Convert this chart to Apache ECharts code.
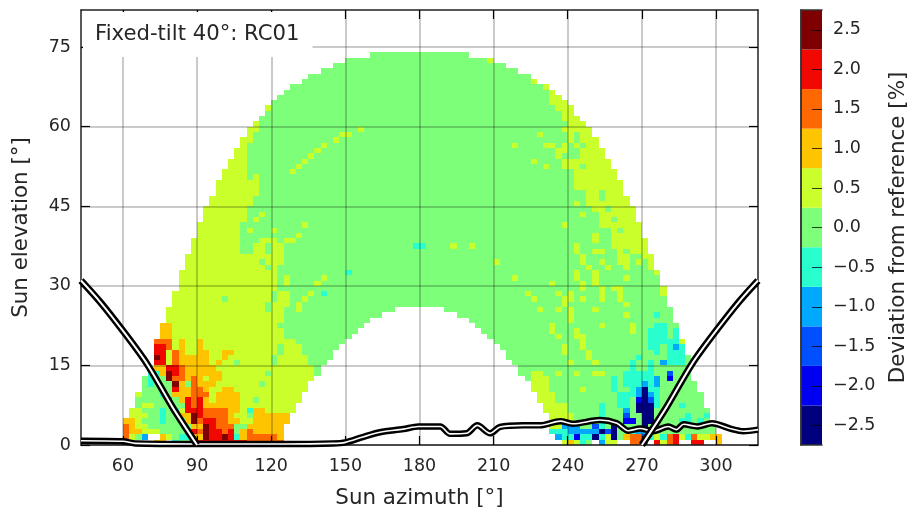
<!DOCTYPE html>
<html>
<head>
<meta charset="utf-8">
<style>
  html, body { margin: 0; background: #fff; }
  #chart { width: 909px; height: 508px; }
</style>
<script src="https://cdn.jsdelivr.net/npm/echarts@6/dist/echarts.min.js"></script>
</head>
<body>
<div id="chart"></div>
<script>
// colour bar
const barLabels = ['−2.5', '−2.0', '−1.5', '−1.0', '−0.5', '0.0', '0.5', '1.0', '1.5', '2.0', '2.5'];
const barColors = ['#00007f', '#0000f1', '#0050ff', '#00a9ff', '#29ffce', '#7dff7a', '#caff2c', '#ffc400', '#ff6800', '#f10800', '#7f0000'];
// letter used in the patches below -> index in barColors
const levelKeys = { n: 0, B: 1, b: 2, s: 3, c: 4, g: 5, y: 6, a: 7, o: 8, r: 9, d: 10 };

const azTicks = [60, 90, 120, 150, 180, 210, 240, 270, 300];
const elTicks = [0, 15, 30, 45, 60, 75];

// bins: 2.5 deg azimuth from 60, 1 deg elevation from 0
const azStart = 60, azStep = 2.5, elStep = 1;

// per elevation row (index = degree): first filled azimuth bin, first bin past the end
const rowStart = [0,0,0,0,0,1,1,2,2,2,3,3,3,4,5,5,5,5,5,5,6,6,6,7,7,7,8,8,8,9,9,9,9,10,10,10,11,11,11,12,12,12,13,13,13,14,14,15,15,15,16,16,17,17,18,18,19,19,20,20,21,22,23,23,24,25,26,27,29,30,32,34,36,40];
const rowEnd = [97,97,96,96,95,95,95,94,94,94,93,93,92,92,92,92,92,91,91,91,90,90,90,89,89,89,88,88,88,88,87,87,87,86,86,86,85,85,85,84,84,84,83,83,83,82,82,81,81,81,80,80,79,79,78,78,77,77,76,76,75,74,73,73,72,71,70,69,67,66,64,62,60,56];
// white area under the arc
const holeStart = [26,26,26,26,27,27,28,28,29,29,30,30,31,32,32,33,34,34,35,36,37,38,39,40,42,44];
const holeEnd = [71,70,69,69,69,69,68,68,67,67,66,66,65,64,64,63,62,62,61,60,59,58,57,56,54,52];
// +0.5 bands: left band runs up to leftBand, right band starts at rightBand
const leftBand = [40,40,40,40,40,40,40,40,40,40,40,40,40,31,31,30,30,29,29,28,26,26,25,26,26,26,27,27,27,25,25,25,25,25,26,26,19,19,19,19,19,19,20,20,20,21,21,22,22,22,20,20,20,20,20,20,20,21,21,22,22,0,0,0,0,0,0,0,0,0,0,0,0,0];
const rightBand = [99,99,99,99,99,99,99,99,99,99,99,99,99,99,99,99,99,99,99,99,99,99,99,99,99,99,99,99,99,99,99,99,99,99,80,80,80,79,79,79,79,77,77,77,76,75,75,75,73,73,73,73,71,71,74,74,75,72,72,72,72,71,71,70,69,69,69,68,66,99,99,99,99,99];

// [row, first bin, letters]; '_' empty
const patches = [
  [0,0,'_____aa_cgggrrrrrrrroooooo'],
  [1,0,'oygs__aygccaadrrdrcaoooooa'],
  [2,0,'oaayyyggggcrodrrorgaoaaaaa'],
  [3,0,'oayygggggggaadroooggaaaaaa'],
  [4,0,'aaygggcgggadorrooaayyaaaaaa'],
  [5,1,'yyyggcggaadroooo'+'ayygaaaaaa'],
  [6,1,'yygggcgcyrrroooo'+'aayc'+'aa'],
  [7,2,'gyyggggg'+'ror'+'aaaaaa'],
  [8,2,'gggggsga'+'ror'+'ay'+'aaaa'],[8,21,'g'],
  [9,3,'gggcgaaa'+'ooo'+'y'+'aaaa'],
  [10,3,'gggcgraaooayyaa'],
  [11,3,'gcgggdagoaaay'],[11,22,'g'],
  [12,3,'gccgdooaoayaa'],
  [13,4,'ccadroaaaaaa'],[13,23,'g'],
  [14,5,'aarroaaaaa'],
  [15,5,'rryoaaaaa'],[15,15,'a'],[15,18,'g'],[15,24,'g'],
  [16,5,'dryoaaaaa'],[16,16,'a'],[16,24,'g'],
  [17,5,'rryoa'],[17,12,'aa'],[17,16,'aa'],[17,25,'g'],
  [18,5,'rroya'],[18,12,'a'],[18,25,'g'],
  [19,5,'oooya'],[19,12,'a'],
  [20,6,'aa'],[21,6,'aa'],[22,6,'aa'],[22,25,'g'],
  [25,23,'g'],[26,23,'g'],[27,16,'g'],[27,24,'g'],[28,24,'g'],
  [30,26,'y'],[31,26,'y'],[33,23,'g'],[34,22,'g'],
  [36,21,'yygyy'],[37,21,'yygyy'],[38,22,'yyy'],[38,26,'yy'],
  // specks in the green part, left
  [25,28,'y'],[26,28,'y'],[27,29,'y'],[28,30,'y'],[28,32,'c'],[30,31,'y'],[31,32,'y'],[32,36,'c'],
  [39,28,'y'],[40,20,'y'],[40,24,'y'],[41,29,'y'],[42,21,'y'],[43,22,'y'],[51,27,'y'],[52,28,'y'],
  [53,29,'y'],[54,30,'y'],[55,31,'y'],[56,32,'y'],[57,34,'y'],[58,35,'yy'],[59,38,'y'],[50,21,'y'],
  [63,23,'y'],
  // centre and right
  [37,47,'cc'],[37,53,'y'],[37,56,'y'],[34,60,'y'],[72,59,'y'],[31,63,'y'],[56,63,'y'],
  [28,65,'y'],[27,66,'y'],[53,66,'y'],[58,67,'y'],[52,68,'y'],[30,69,'y'],
  [54,70,'y'],[55,70,'yy'],[28,70,'y'],[27,71,'yy'],[28,72,'y'],[41,71,'y'],[59,71,'y'],
  [36,73,'y'],[37,73,'y'],[31,73,'y'],[32,73,'y'],[45,73,'y'],[56,68,'yy'],[56,71,'y'],[56,73,'y'],
  [57,73,'g'],[58,73,'g'],[52,74,'g'],[43,74,'y'],[35,74,'y'],[34,74,'y'],[30,74,'y'],[29,74,'y'],[27,74,'y'],
  [33,75,'y'],[38,76,'y'],[39,76,'y'],[36,76,'yy'],[30,76,'y'],[31,76,'y'],[32,76,'y'],
  [34,77,'y'],[46,77,'g'],[47,77,'g'],[29,77,'y'],[28,77,'y'],[27,77,'y'],[33,78,'y'],[44,78,'g'],[42,79,'g'],
  [40,80,'g'],[29,79,'yy'],[28,80,'y'],[27,80,'y'],[36,81,'g'],[33,81,'y'],[31,81,'y'],[35,82,'gg'],[34,82,'g'],[34,84,'g'],
  [33,85,'y'],[32,86,'y'],[28,87,'y'],[29,87,'y'],
  [26,71,'y'],[25,67,'y'],[25,70,'y'],[25,72,'y'],[25,76,'y'],[24,72,'y'],[23,72,'y'],[24,81,'y'],[24,86,'c'],[26,81,'y'],
  [22,69,'y'],[22,77,'y'],[22,82,'y'],[22,86,'cc'],
  [21,69,'y'],[21,73,'y'],[21,82,'y'],[21,85,'ccc'],[21,89,'c'],
  [20,70,'y'],[20,73,'yy'],[20,85,'ccc'],[20,89,'c'],
  [19,74,'y'],[19,85,'ccccc'],[19,90,'y'],
  [18,71,'y'],[18,74,'y'],[18,85,'cc'],[18,88,'csc'],
  [17,71,'y'],[17,75,'y'],[17,86,'c'],[17,88,'ccc'],
  [16,75,'y'],[16,83,'c'],[16,88,'ccc'],
  [15,72,'y'],[15,76,'y'],[15,82,'c'],[15,85,'c'],[15,87,'sccc'],
  [14,82,'c'],[14,85,'c'],
  [13,66,'yy'],[13,70,'y'],[13,73,'y'],[13,76,'yy'],[13,81,'ccccc'],[13,88,'b'],
  [12,66,'yyy'],[12,79,'c'],[12,81,'ccccc'],[12,86,'s'],[12,88,'B'],
  [11,66,'yyy'],[11,79,'c'],[11,81,'cccsc'],[11,86,'s'],
  [10,66,'yyy'],[10,74,'y'],[10,79,'c'],[10,82,'csncc'],
  [9,67,'yyy'],[9,80,'cccsnsc'],
  [8,67,'yyy'],[8,80,'cc'],[8,83,'Bnbc'],
  [7,68,'yyyy'],[7,77,'c'],[7,80,'cc'],[7,83,'nnnc'],[7,90,'c'],
  [6,68,'yyyy'],[6,77,'c'],[6,81,'s'],[6,83,'nnn'],
  [5,69,'yyyy'],[5,77,'c'],[5,81,'b'],[5,84,'nn'],[5,91,'c'],[5,94,'c'],
  [4,69,'yyyy'],[4,77,'c'],[4,81,'BB'],[4,84,'nn'],[4,90,'cc'],[4,93,'c'],
  [3,69,'yysss'],[3,76,'bc'],[3,79,'n'],[3,84,'n'],
  [2,69,'cccsssssnc'],[2,78,'bn'],[2,82,'css'],
  [1,70,'sccBccncynga'],[1,82,'oobc'],[1,86,'ycorycoyyaa'],
  [0,71,'yaycg_syy__oos_ryor__rr__a']
];

// build the cells [azimuth, elevation, colour index]
const cells = [];
for (let r = 0; r < rowStart.length; r++) {
  const row = [];
  for (let k = rowStart[r]; k < rowEnd[r]; k++) {
    if (r < holeStart.length && k >= holeStart[r] && k < holeEnd[r]) continue;
    let key = 'g';
    if (k < leftBand[r] || k >= rightBand[r]) key = 'y';
    row[k] = key;
  }
  patches.filter(p => p[0] === r).forEach(p => {
    p[2].split('').forEach((c, i) => {
      if (c === '_') delete row[p[1] + i];
      else row[p[1] + i] = c;
    });
  });
  row.forEach((key, k) => {
    cells.push([azStart + azStep * (k + 0.5), elStep * (r + 0.5), levelKeys[key]]);
  });
}

// horizon and sky-view limit lines
const horizonAz = [43,60,65,90,125,145,150,157,164,173.5,179.5,188.4,192.4,199,203.4,208.6,212.6,222,228.8,237,242,253,259.9,264.5,269.3,274.6,280.7,284,286.9,292.5,298.3,306.4,311,317];
const horizonEl = [0.8,0.7,0.3,0.2,0.2,0.3,0.5,1.5,2.4,3,3.5,3.5,2.1,2.2,3.7,2.2,3.4,3.7,3.7,4.5,4,4.7,4.1,2.7,3.1,2.6,3.5,2.9,3.9,3.5,4.1,3,2.6,2.9];
const limitLeftAz = [43,50.7,60,69.7,80.2,90];
const limitLeftEl = [31,27,21.5,15.3,7,0];
const limitRightAz = [270,279.8,290.3,300,309.3,317];
const limitRightEl = [0,7,15.3,21.5,27,31];

const zip = (a, b) => a.map((v, i) => [v, b[i]]);
const lineColorDark = '#000', textColor = '#262626', fontFamily = 'DejaVu Sans';

function lineSeries(az, el, color, width) {
  return {
    type: 'line', xAxisIndex: 0, yAxisIndex: 0, data: zip(az, el), showSymbol: false, symbol: 'none',
    silent: true, z: 6, smooth: 0.3, lineStyle: { color: color, width: width, join: 'round' }
  };
}

const mainAxis = {
  z: 5,
  axisLine: { show: true, onZero: false, lineStyle: { color: '#222', width: 1.5 } },
  axisTick: { show: true, inside: true, length: 9, lineStyle: { color: '#000', width: 1.2 } },
  splitLine: { show: false }
};
const gridLine = { show: true, lineStyle: { color: 'rgba(0,0,0,0.28)', width: 1.5 } };
const labelStyle = { fontSize: 17.5, color: textColor, fontFamily: fontFamily };
const nameStyle = { fontSize: 21.4, color: textColor, fontFamily: fontFamily };

const chart = echarts.init(document.getElementById('chart'));
chart.setOption({
  animation: false,
  backgroundColor: '#fff',
  textStyle: { fontFamily: fontFamily },
  title: {
    text: 'Fixed-tilt 40°: RC01',
    left: 83, top: 12, z: 10,
    backgroundColor: '#fff',
    padding: [12, 13, 12, 12],
    textStyle: { fontFamily: fontFamily, fontSize: 21.2, fontWeight: 'normal', color: textColor }
  },
  grid: [
    { left: 81, top: 10, width: 677, height: 435, outerBoundsMode: 'none' },
    { left: 801, top: 10, width: 21, height: 435, outerBoundsMode: 'none' }
  ],
  xAxis: [
    Object.assign({}, mainAxis, {
      type: 'value', gridIndex: 0, min: 43, max: 317, position: 'bottom',
      name: 'Sun azimuth [°]', nameLocation: 'middle', nameGap: 43, nameTextStyle: nameStyle,
      axisTick: Object.assign({}, mainAxis.axisTick, { customValues: azTicks }),
      axisLabel: Object.assign({ customValues: azTicks, margin: 12 }, labelStyle),
      splitLine: gridLine
    }),
    Object.assign({}, mainAxis, {
      type: 'value', gridIndex: 0, min: 43, max: 317, position: 'top',
      axisTick: Object.assign({}, mainAxis.axisTick, { customValues: azTicks }),
      axisLabel: { show: false }
    }),
    {
      type: 'value', gridIndex: 1, min: 0, max: 1, position: 'bottom', z: 5,
      axisLine: { show: true, lineStyle: { color: '#333', width: 1.5 } },
      axisTick: { show: false }, axisLabel: { show: false }, splitLine: { show: false }
    },
    {
      type: 'value', gridIndex: 1, min: 0, max: 1, position: 'top', z: 5,
      axisLine: { show: true, lineStyle: { color: '#333', width: 1.5 } },
      axisTick: { show: false }, axisLabel: { show: false }, splitLine: { show: false }
    }
  ],
  yAxis: [
    Object.assign({}, mainAxis, {
      type: 'value', gridIndex: 0, min: 0, max: 82, position: 'left',
      name: 'Sun elevation [°]', nameLocation: 'middle', nameGap: 49, nameTextStyle: nameStyle,
      axisTick: Object.assign({}, mainAxis.axisTick, { customValues: elTicks }),
      axisLabel: Object.assign({ customValues: elTicks, margin: 10 }, labelStyle),
      splitLine: gridLine
    }),
    Object.assign({}, mainAxis, {
      type: 'value', gridIndex: 0, min: 0, max: 82, position: 'right',
      axisTick: Object.assign({}, mainAxis.axisTick, { customValues: elTicks }),
      axisLabel: { show: false }
    }),
    {
      type: 'category', gridIndex: 1, data: barLabels, position: 'right', z: 5, boundaryGap: true,
      name: 'Deviation from reference [%]', nameLocation: 'middle', nameGap: 66, nameRotate: 90, nameTextStyle: nameStyle,
      axisLine: { show: true, lineStyle: { color: '#333', width: 1.5 } },
      axisTick: { show: false },
      axisLabel: Object.assign({ interval: 0, margin: 11, align: 'left' }, labelStyle),
      splitLine: { show: false }
    },
    {
      type: 'category', gridIndex: 1, data: barLabels, position: 'left', z: 5,
      axisLine: { show: true, lineStyle: { color: '#333', width: 1.5 } },
      axisTick: { show: false }, axisLabel: { show: false }, splitLine: { show: false }
    }
  ],
  series: [
    {
      type: 'custom', xAxisIndex: 0, yAxisIndex: 0, data: cells, clip: true, silent: true, z: 2,
      renderItem: function (params, api) {
        const a = api.coord([api.value(0) - azStep / 2, api.value(1) + elStep / 2]);
        const b = api.coord([api.value(0) + azStep / 2, api.value(1) - elStep / 2]);
        const x = Math.round(a[0]), y = Math.round(a[1]);
        return {
          type: 'rect',
          shape: { x: x, y: y, width: Math.round(b[0]) - x, height: Math.round(b[1]) - y },
          style: { fill: barColors[api.value(2)] }
        };
      }
    },
    lineSeries(horizonAz, horizonEl, lineColorDark, 6.5),
    lineSeries(horizonAz, horizonEl, '#fff', 1.6),
    lineSeries(limitLeftAz, limitLeftEl, lineColorDark, 7),
    lineSeries(limitLeftAz, limitLeftEl, '#fff', 2),
    lineSeries(limitRightAz, limitRightEl, lineColorDark, 7),
    lineSeries(limitRightAz, limitRightEl, '#fff', 2),
    {
      type: 'bar', xAxisIndex: 2, yAxisIndex: 2, barWidth: '100%', silent: true, z: 2,
      data: barColors.map(c => ({ value: 1, itemStyle: { color: c } }))
    },
    {
      // colour bar ticks, short marks on the right half of each box
      type: 'custom', xAxisIndex: 2, yAxisIndex: 2, silent: true, z: 3,
      data: barLabels.map((label, i) => [1, i]),
      renderItem: function (params, api) {
        const end = api.coord([1, api.value(1)]);
        const start = api.coord([0.52, api.value(1)]);
        return {
          type: 'line',
          shape: { x1: start[0], y1: Math.round(start[1]) + 0.5, x2: end[0], y2: Math.round(end[1]) + 0.5 },
          style: { stroke: 'rgba(0,0,0,0.75)', lineWidth: 1 }
        };
      }
    }
  ]
});
</script>
</body>
</html>
